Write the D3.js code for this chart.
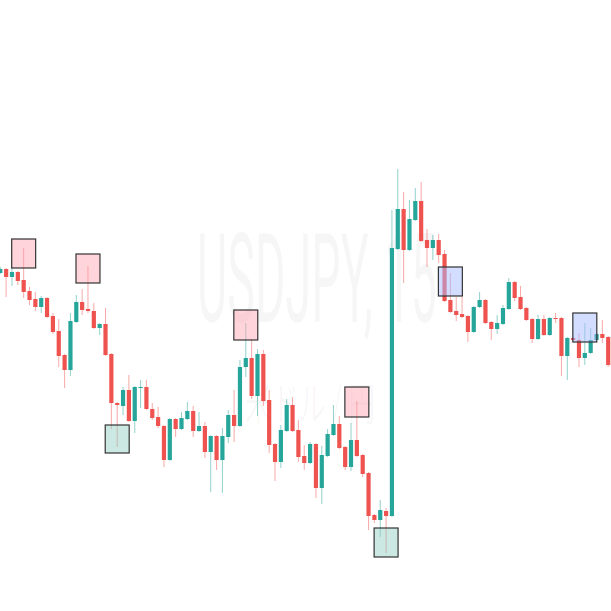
<!DOCTYPE html>
<html>
<head>
<meta charset="utf-8">
<script src="https://cdn.jsdelivr.net/npm/d3@7/dist/d3.min.js"></script>
<style>
  html, body { margin: 0; padding: 0; background: #ffffff; }
  svg { display: block; }
</style>
</head>
<body>
<div id="chart"></div>
<script>
// ---- Data (USDJPY, 15) ----
const symbolLabel = "USDJPY, 15";
const descLabel = "米ドル / 円";

const opens = [152.27,152.31,152.23,152.28,152.20,152.09,152.01,151.93,152.02,151.84,
  151.69,151.45,151.30,151.78,151.98,151.91,151.89,151.72,151.76,151.46,
  150.97,150.94,151.10,150.79,151.12,151.13,150.91,150.83,150.74,150.40,
  150.81,150.71,150.81,150.89,150.69,150.74,150.48,150.64,150.40,150.63,
  150.85,150.74,151.33,151.42,151.04,151.46,151.00,150.56,150.38,150.69,
  150.95,150.70,150.44,150.37,150.56,150.12,150.44,150.65,150.76,150.53,
  150.33,150.60,150.45,150.27,149.85,149.80,149.89,149.84,152.51,152.91,
  152.50,152.80,152.99,152.60,152.52,152.60,152.46,152.00,151.89,151.86,
  151.84,151.68,151.93,152.00,151.78,151.71,151.76,151.91,152.18,152.03,
  151.92,151.81,151.61,151.81,151.65,151.82,151.82,151.44,151.62,151.60,
  151.42,151.47,151.60,151.66,151.63];
const highs = [152.33,152.32,152.33,152.29,152.52,152.13,152.08,152.04,152.03,151.87,
  151.81,151.46,151.87,152.05,152.11,152.34,151.97,151.77,151.92,151.47,
  150.98,151.13,151.25,151.14,151.20,151.20,150.97,150.93,150.75,150.82,
  150.82,150.88,150.98,150.94,150.88,150.78,150.65,150.65,150.72,150.90,
  151.10,151.40,151.77,151.60,151.51,151.50,151.10,150.57,150.75,151.01,
  151.03,150.80,150.55,150.58,150.57,150.54,150.71,150.95,150.84,150.54,
  150.77,150.99,150.46,150.28,149.86,150.00,149.92,152.90,153.31,153.08,
  153.00,153.12,153.18,152.71,152.65,152.66,152.50,152.27,152.03,152.03,
  151.85,151.94,152.08,152.01,151.79,151.85,151.95,152.22,152.19,152.14,
  151.93,151.82,151.85,151.85,151.83,151.87,151.83,151.63,151.63,151.67,
  151.77,151.72,151.67,151.80,151.64];
const lows = [152.26,152.03,152.14,152.15,152.02,151.95,151.89,151.87,151.82,151.66,
  151.33,151.12,151.24,151.77,151.85,151.87,151.71,151.65,151.44,150.71,
  150.53,150.85,150.78,150.67,150.92,150.90,150.80,150.72,150.33,150.39,
  150.63,150.70,150.80,150.63,150.68,150.42,150.08,150.30,150.07,150.57,
  150.58,150.73,151.23,151.01,150.84,150.94,150.47,150.19,150.32,150.68,
  150.68,150.38,150.30,150.36,150.02,149.96,150.43,150.64,150.51,150.30,
  150.29,150.43,150.23,149.70,149.77,149.63,149.47,149.83,152.50,152.17,
  152.49,152.79,152.58,152.33,152.40,152.37,151.98,151.87,151.79,151.82,
  151.58,151.67,151.92,151.76,151.60,151.66,151.75,151.90,151.99,151.90,
  151.79,151.57,151.60,151.64,151.64,151.77,151.24,151.20,151.59,151.33,
  151.35,151.46,151.59,151.57,151.33];
const closes = [152.31,152.23,152.28,152.19,152.08,152.00,151.93,152.02,151.83,151.68,
  151.44,151.30,151.79,151.98,151.90,151.89,151.72,151.76,151.45,150.97,
  150.95,151.10,150.79,151.13,151.13,150.91,150.82,150.74,150.40,150.81,
  150.71,150.82,150.89,150.69,150.74,150.48,150.64,150.40,150.64,150.85,
  150.74,151.33,151.42,151.04,151.46,150.99,150.55,150.38,150.70,150.95,
  150.69,150.43,150.37,150.56,150.12,150.45,150.66,150.76,150.52,150.33,
  150.60,150.44,150.26,149.84,149.80,149.90,149.84,152.52,152.91,152.50,
  152.81,152.99,152.59,152.52,152.60,152.45,151.99,151.88,151.85,151.83,
  151.68,151.93,152.00,151.77,151.71,151.77,151.92,152.18,152.02,151.91,
  151.80,151.61,151.81,151.65,151.82,151.81,151.44,151.62,151.60,151.42,
  151.47,151.60,151.66,151.62,151.35];

// Swing zones (boxes)
const boxIndex  = [4, 15, 20, 42, 61, 66, 77, 100];
const boxTop    = [152.61, 152.46, 150.75, 151.90, 151.13, 149.72, 152.33, 151.87];
const boxBottom = [152.32, 152.17, 150.47, 151.60, 150.83, 149.43, 152.04, 151.58];
const boxKind   = ["high", "high", "low", "high", "high", "low", "mid", "mid"];

// ---- Chart ----
const W = 611, H = 611;
const UP = "#26a69a", DOWN = "#ef5350";
const boxFill = { high: "rgba(255,160,172,0.45)", low: "rgba(140,205,192,0.45)", mid: "rgba(165,188,255,0.5)" };

const svg = d3.select("#chart").append("svg")
  .attr("width", W).attr("height", H);

const x = d3.scaleLinear().domain([0, opens.length - 1]).range([0.3, 608.2]);
const y = d3.scaleLinear().domain([148.89, 155]).range([H, 0]);

// watermark: horizontally condensed text, scaled to measured width
function condensedText(parent, label, cx, baseline, targetW, size, family) {
  const g = parent.append("g");
  const t = g.append("text")
    .attr("x", 0).attr("y", 0)
    .attr("text-anchor", "middle")
    .attr("font-family", family)
    .attr("font-size", size)
    .attr("fill", "rgba(0,0,0,0.035)")
    .text(label);
  const len = t.node().getComputedTextLength() || targetW;
  g.attr("transform", `translate(${cx},${baseline}) scale(${targetW / len},1)`);
}
const wm = svg.append("g").attr("class", "watermark");
condensedText(wm, symbolLabel, 317, 322, 240, 125, "Roboto, 'Liberation Sans', sans-serif");
condensedText(wm, descLabel, 310, 420, 130, 46, "'Noto Sans CJK JP', sans-serif");

const data = opens.map((o, i) => ({ i, o, h: highs[i], l: lows[i], c: closes[i] }));
const bodyW = 4.2;

const g = svg.append("g").attr("class", "candles");
const cg = g.selectAll("g").data(data).join("g");

cg.append("line")
  .attr("x1", d => x(d.i)).attr("x2", d => x(d.i))
  .attr("y1", d => y(d.h)).attr("y2", d => y(d.l))
  .attr("stroke", d => d.c >= d.o ? UP : DOWN)
  .attr("stroke-opacity", 0.5)
  .attr("stroke-width", 1);

cg.append("rect")
  .attr("x", d => x(d.i) - bodyW / 2)
  .attr("width", bodyW)
  .attr("y", d => y(Math.max(d.o, d.c)))
  .attr("height", d => Math.max(1, Math.abs(y(d.o) - y(d.c))))
  .attr("fill", d => d.c >= d.o ? UP : DOWN);

// boxes
const boxes = boxIndex.map((bi, k) => ({ bi, top: boxTop[k], bot: boxBottom[k], kind: boxKind[k] }));
svg.append("g").attr("class", "boxes")
  .selectAll("rect").data(boxes).join("rect")
  .attr("x", d => x(d.bi - 2.05))
  .attr("width", d => x(d.bi + 2.05) - x(d.bi - 2.05))
  .attr("y", d => y(d.top))
  .attr("height", d => y(d.bot) - y(d.top))
  .attr("fill", d => boxFill[d.kind])
  .attr("stroke", "#333")
  .attr("stroke-width", 1.2);
</script>
</body>
</html>
